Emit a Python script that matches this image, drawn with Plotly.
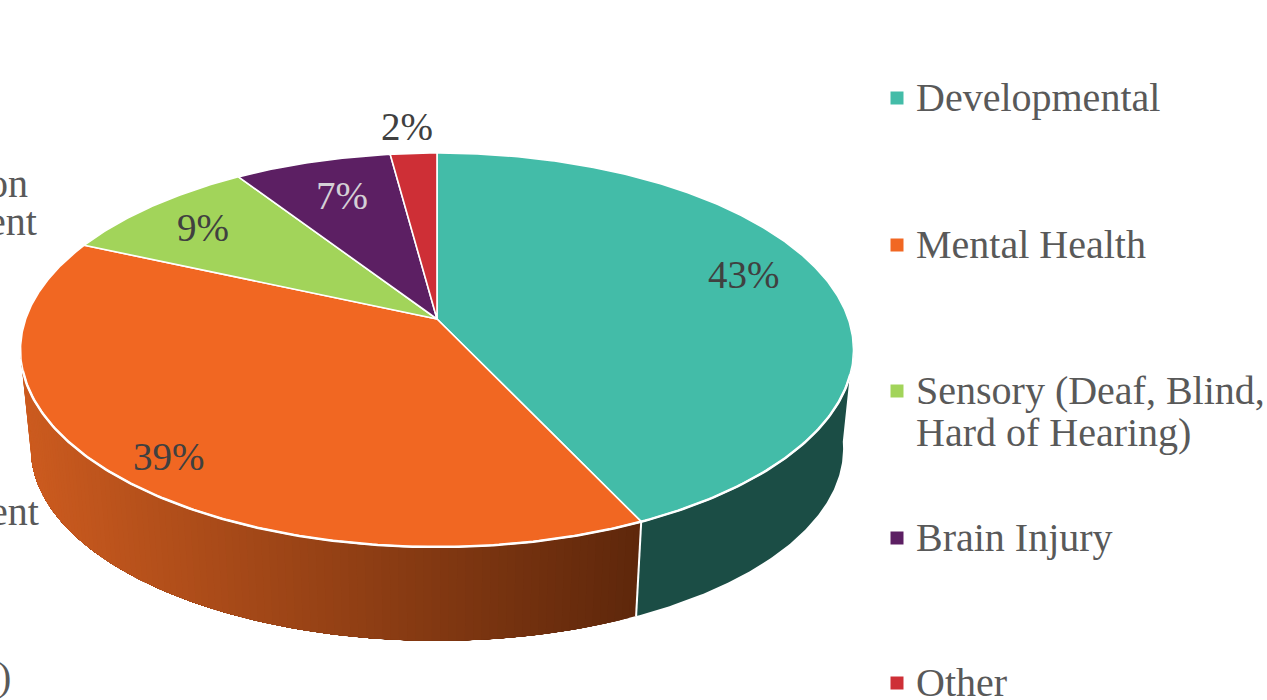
import numpy as np
import plotly.graph_objects as go

# --- data ---
categories = ["Developmental", "Mental Health", "Sensory (Deaf, Blind, Hard of Hearing)", "Brain Injury", "Other"]
values = [43.0, 38.7, 9.1, 7.1, 2.1]
percent_labels = ["43%", "39%", "9%", "7%", "2%"]

# --- styles ---
top_colors = ["#43BCA8", "#F16722", "#A2D45A", "#5C1F63", "#CE2F36"]
side_left = {0: "#1B4D45", 1: "#CC5B1F"}
side_right = {0: "#1B4D45", 1: "#5E270B"}
label_colors = ["#404040", "#404040", "#404040", "#D4D0D6", "#404040"]
FONT = "Liberation Serif"
TEXT = "#595959"

# --- projection of the disc (pixel axes) ---
CX, CY = 437.0, 319.0
A, B, K = 411.3, 192.1, 0.1574
SHRINK, DROP = 0.975, 99.5


def top(theta):
    t = np.radians(theta)
    d = 1 + K * np.cos(t)
    return CX + A * np.sin(t) / d, CY - B * np.cos(t) / d


def bottom(theta):
    x, y = top(theta)
    return CX + (x - CX) * SHRINK, CY + (y - CY) * SHRINK + DROP


def hex_rgb(h):
    return np.array([int(h[i:i + 2], 16) for i in (1, 3, 5)], dtype=float)


def mix(c1, c2, f):
    r = hex_rgb(c1) * (1 - f) + hex_rgb(c2) * f
    return f"rgb({r[0]:.0f},{r[1]:.0f},{r[2]:.0f})"


cum = np.cumsum([0] + values) / sum(values) * 360
fig = go.Figure()


def poly(x, y, fill, line=None, width=0):
    fig.add_trace(go.Scatter(
        x=x, y=y, mode="lines", fill="toself", fillcolor=fill,
        line=dict(color=line or fill, width=width),
        hoverinfo="skip", showlegend=False))


# side walls: each band runs on to the far end of its slice and the next band
# paints over it, so the shading has no seams between bands
VIS_START, VIS_END = 97.0, 263.0
xl, xr = bottom(VIS_END)[0], bottom(cum[1])[0]

# teal wall is one flat piece
ts0 = np.linspace(max(cum[0], VIS_START), cum[1], 120)
poly(np.r_[top(ts0)[0], bottom(ts0[::-1])[0]], np.r_[top(ts0)[1], bottom(ts0[::-1])[1]], side_left[0])

# orange wall, shaded along x
a0, a1 = cum[1], min(cum[2], VIS_END)
bands = np.linspace(a0, a1, 110)
for e0, e1 in zip(bands[:-1], bands[1:]):
    ts = np.linspace(e0, a1, max(3, int((a1 - e0) * 1.5)))
    tx, ty = top(ts)
    bx, by = bottom(ts[::-1])
    xm = bottom((e0 + e1) / 2)[0]
    f = float(np.clip((xl - xm) / (xl - xr), 0, 1))
    poly(np.r_[tx, bx], np.r_[ty, by], mix(side_left[1], side_right[1], f))

# white edge between the two visible walls
ex0, ey0 = top(cum[1])
ex1, ey1 = bottom(cum[1])
fig.add_trace(go.Scatter(x=[ex0, ex1], y=[ey0, ey1], mode="lines",
                         line=dict(color="white", width=2), hoverinfo="skip", showlegend=False))

# top faces
for i, col in enumerate(top_colors):
    ts = np.linspace(cum[i], cum[i + 1], max(6, int(cum[i + 1] - cum[i]) * 2))
    x, y = top(ts)
    poly(np.r_[CX, x, CX], np.r_[CY, y, CY], col, "white", 1.6)

# front rim
rx, ry = top(np.linspace(106, 255, 220))
fig.add_trace(go.Scatter(x=rx, y=ry, mode="lines", line=dict(color="white", width=2.5),
                         hoverinfo="skip", showlegend=False))

# percent labels, placed from each slice's mid angle
label_radius = [0.81, 0.87, 0.80, 0.76, 1.19]
label_turn = [-4.5, -2.1, -0.6, 0.6, -0.4]
annotations = []


def project(theta, r):
    t = np.radians(theta)
    d = 1 + K * r * np.cos(t)
    return CX + A * r * np.sin(t) / d, CY - B * r * np.cos(t) / d


for i, lab in enumerate(percent_labels):
    mid = (cum[i] + cum[i + 1]) / 2 + label_turn[i]
    lx, ly = project(mid, label_radius[i])
    annotations.append(dict(x=lx, y=ly, text=lab, showarrow=False, xanchor="center", yanchor="middle",
                            font=dict(family=FONT, size=39, color=label_colors[i])))

# legend: square keys + text
legend_y = [98, 245, 391, 538, 683]
legend_lines = [["Developmental"], ["Mental Health"], ["Sensory (Deaf, Blind,", "Hard of Hearing)"], ["Brain Injury"], ["Other"]]
LEG_KEY_X, LEG_TEXT_X, LEG_LINE, LEG_NUDGE = 897, 914, 42, -1
fig.add_trace(go.Scatter(x=[LEG_KEY_X] * 5, y=legend_y, mode="markers",
                         marker=dict(symbol="square", size=13, color=top_colors, line=dict(width=0)),
                         hoverinfo="skip", showlegend=False))
for yy, lines in zip(legend_y, legend_lines):
    for j, line in enumerate(lines):
        annotations.append(dict(x=LEG_TEXT_X, y=yy + LEG_NUDGE + j * LEG_LINE, text=line, showarrow=False,
                                xanchor="left", yanchor="middle",
                                font=dict(family=FONT, size=40, color=TEXT)))

# fragments of labels cut off by the left edge of the picture
clip_text = ["on", "ent", "ent", ")"]
clip_right = [30, 39, 41, 13]
clip_y = [183, 221, 511, 676]
for t, xe, yy in zip(clip_text, clip_right, clip_y):
    annotations.append(dict(x=xe, y=yy, text=t, showarrow=False, xanchor="right", yanchor="middle",
                            font=dict(family=FONT, size=40, color=TEXT)))

fig.update_layout(
    width=1267, height=700, margin=dict(l=0, r=0, t=0, b=0),
    paper_bgcolor="white", plot_bgcolor="white",
    xaxis=dict(range=[0, 1267], visible=False, fixedrange=True),
    yaxis=dict(range=[700, 0], visible=False, fixedrange=True),
    annotations=annotations,
)
fig.write_html("out.html", config={"displayModeBar": False},
               post_script="document.body.style.margin='0';document.body.style.overflow='hidden';")
